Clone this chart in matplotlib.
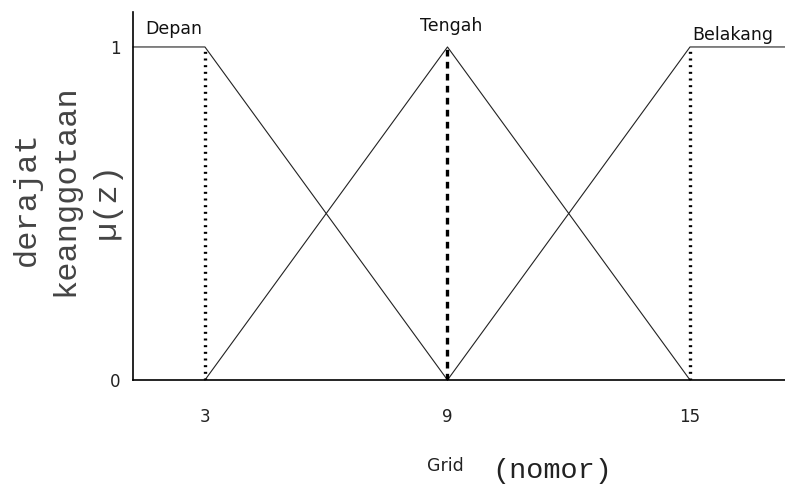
import matplotlib
matplotlib.use("Agg")
import matplotlib.pyplot as plt

# data
x_min, x_max = 1.22, 17.35
set_names = ["Depan", "Tengah", "Belakang"]
depan_x = [x_min, 3, 9]
depan_y = [1, 1, 0]
tengah_x = [3, 9, 15]
tengah_y = [0, 1, 0]
belakang_x = [9, 15, x_max]
belakang_y = [0, 1, 1]
x_ticks = [3, 9, 15]
y_ticks = [0, 1]
label_x = [1.52, 9.1, 15.05]
label_y = [1.04, 1.048, 1.02]
label_ha = ["left", "center", "left"]

fig = plt.figure(figsize=(7.85, 4.86), dpi=100)
ax = fig.add_axes([133/785, 106/486, 652/785, 368/486])
ax.set_xlim(x_min, x_max)
ax.set_ylim(0, 1.105)

for xs, ys in [(depan_x, depan_y), (tengah_x, tengah_y), (belakang_x, belakang_y)]:
    ax.plot(xs, ys, color="#222222", lw=0.8, clip_on=False)

ax.plot([3, 3], [0, 1], color="black", lw=2.4, linestyle=(0, (0.6, 1.4)))
ax.plot([9, 9], [0, 1], color="black", lw=2.4, linestyle=(0, (2.0, 1.6)))
ax.plot([15, 15], [0, 1], color="black", lw=2.4, linestyle=(0, (0.6, 1.4)))

for name, lx, ly, ha in zip(set_names, label_x, label_y, label_ha):
    ax.text(lx, ly, name, fontsize=12.5, color="#111111", ha=ha, va="baseline",
            family="DejaVu Sans")

ax.spines["top"].set_visible(False)
ax.spines["right"].set_visible(False)
for s in ["left", "bottom"]:
    ax.spines[s].set_linewidth(1.2)
    ax.spines[s].set_color("black")

ax.set_xticks(x_ticks)
ax.set_xticklabels([str(t) for t in x_ticks], fontsize=12, color="#222222")
ax.set_yticks(y_ticks)
ax.set_yticklabels([str(t) for t in y_ticks], fontsize=12, color="#222222")
ax.tick_params(axis="x", length=0, pad=20)
ax.tick_params(axis="y", length=0, pad=9)

# y label (three rotated lines, monospace)
mono = "Liberation Mono"
fig.text(27/785, 1 - 199/486, "derajat", rotation=90, fontsize=23, family=mono,
         color="#444444", ha="center", va="center")
fig.text(65/785, 1 - 190/486, "keanggotaan", rotation=90, fontsize=23, family=mono,
         color="#444444", ha="center", va="center")
fig.text(107/785, 1 - 200/486, "\u00b5(z)", rotation=90, fontsize=23, family=mono,
         color="#444444", ha="center", va="center")

# x label
fig.text(445/785, 1 - 466/486, "Grid", fontsize=12.5, color="#222222",
         ha="center", va="center")
fig.text(552/785, 1 - 471/486, "(nomor)", fontsize=20.5, family=mono,
         color="#222222", ha="center", va="center")

fig.savefig("out.png", dpi=100)
